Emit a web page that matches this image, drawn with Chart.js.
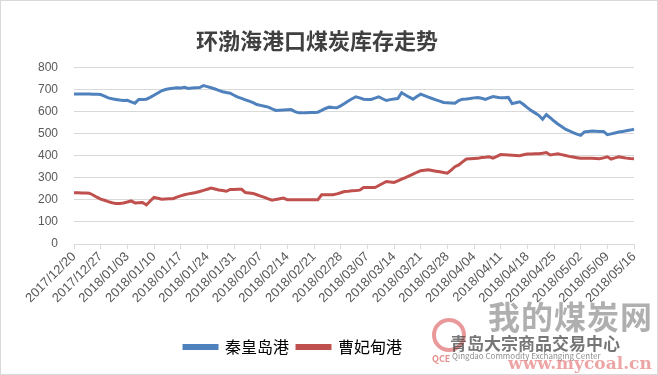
<!DOCTYPE html>
<html>
<head>
<meta charset="utf-8">
<script src="https://cdn.jsdelivr.net/npm/chart.js@4/dist/chart.umd.min.js"></script>
<style>
    html, body { margin: 0; padding: 0; background: #fff; }
    #wrap { position: relative; width: 658px; height: 375px; }
    #frame { position: absolute; left: 0; top: 0; width: 658px; height: 375px; box-sizing: border-box; border: 1px solid #d9d9d9; pointer-events: none; }
    .wm { position: absolute; white-space: nowrap; font-family: "Noto Sans CJK SC", sans-serif; pointer-events: none; }
</style>
</head>
<body>
<div id="wrap">
    <canvas id="stock-canvas" width="658" height="375"></canvas>
    <div class="wm" style="left:432px;top:318px;width:34px;height:34px;border:4px solid rgba(215,70,70,0.55);border-radius:50%;box-sizing:border-box;"></div>
    <div class="wm" style="left:432px;top:352px;font-size:9px;font-weight:bold;color:rgba(215,70,70,0.6);">QCE</div>
    <div class="wm" style="left:488px;top:292px;font-size:32px;font-weight:bold;color:rgba(110,110,110,0.55);letter-spacing:1px;">我的煤炭网</div>
    <div class="wm" style="left:450px;top:330px;font-size:17px;font-weight:bold;color:rgba(60,60,60,0.7);">青岛大宗商品交易中心</div>
    <div class="wm" style="left:452px;top:350px;font-size:8px;color:rgba(60,60,60,0.6);">Qingdao Commodity Exchanging Center</div>
    <div class="wm" style="left:508px;top:353px;font-size:17px;font-weight:bold;font-family:'DejaVu Serif',serif;color:rgba(220,90,90,0.55);">www.mycoal.cn</div>
    <div id="frame"></div>
</div>
<script>
// Daily coal stocks (10k t), 2017/12/20 .. 2018/05/16
const startDate = Date.UTC(2017, 11, 20);
const dayCount = 148;
const seriesNames = ["秦皇岛港", "曹妃甸港"];
const yTicks = [0, 100, 200, 300, 400, 500, 600, 700, 800];

const qhdStock = [
    680, 680, 679, 680, 679, 678, 678, 677, 670, 662,
    658, 655, 652, 650, 651, 644, 638, 655, 655, 656,
    664, 674, 684, 694, 700, 703, 706, 708, 707, 710,
    705, 707, 708, 709, 718, 713, 708, 702, 696, 690,
    686, 683, 674, 665, 660, 653, 647, 640, 632, 628,
    624, 620, 612, 605, 606, 607, 608, 609, 600, 594,
    594, 595, 596, 596, 597, 605, 614, 620, 618, 617,
    626, 636, 648, 658, 667, 662, 656, 655, 655, 661,
    667, 658, 650, 654, 657, 659, 685, 675, 665, 656,
    668, 679, 672, 665, 659, 653, 647, 641, 640, 639,
    638, 650, 656, 657, 659, 662, 664, 660, 655, 662,
    668, 665, 662, 663, 664, 636, 640, 644, 632, 618,
    605, 594, 583, 565, 586, 572, 557, 544, 532, 520,
    513, 505, 498, 492, 508, 510, 512, 511, 510, 510,
    495, 499, 503, 507, 510, 513, 516, 520
];

const cfdStock = [
    232, 232, 231, 231, 230, 222, 212, 203, 198, 192,
    187, 183, 184, 186, 190, 195, 186, 187, 188, 177,
    195, 211, 207, 203, 204, 205, 205, 212, 218, 223,
    227, 230, 233, 238, 243, 248, 253, 249, 245, 242,
    239, 247, 247, 248, 248, 233, 231, 229, 223, 217,
    211, 204, 198, 202, 205, 208, 200, 200, 200, 200,
    200, 200, 200, 200, 200, 223, 223, 223, 223, 227,
    232, 238, 239, 241, 242, 244, 256, 256, 256, 256,
    265, 274, 283, 281, 279, 286, 294, 301, 309, 317,
    325, 332, 334, 336, 333, 330, 327, 324, 321, 335,
    350, 358, 372, 385, 386, 387, 388, 392, 393, 395,
    389, 397, 405, 404, 403, 402, 401, 400, 404, 408,
    408, 409, 409, 411, 414, 403, 406, 409, 405, 401,
    397, 394, 391, 388, 388, 389, 388, 387, 386, 390,
    395, 385, 390, 395, 392, 389, 387, 386
];

// category labels: one per day
const dateLabels = [];
for (let i = 0; i < dayCount; i++) {
    const d = new Date(startDate + i * 86400000);
    const mm = String(d.getUTCMonth() + 1).padStart(2, "0");
    const dd = String(d.getUTCDate()).padStart(2, "0");
    dateLabels.push(d.getUTCFullYear() + "/" + mm + "/" + dd);
}

const lineColors = ["#4f81bd", "#c0504d"];
const tickGray = "#595959";
const gridGray = "#d9d9d9";

// Excel put the legend a bit left of centre
const legendShift = {
    id: "legendShift",
    afterLayout(chart) {
        chart.legend.left -= 24;
        chart.legend.right -= 24;
    }
};

new Chart(document.getElementById("stock-canvas"), {
    type: "line",
    data: {
        labels: dateLabels,
        datasets: [qhdStock, cfdStock].map((vals, i) => ({
            label: seriesNames[i],
            data: vals,
            borderColor: lineColors[i],
            backgroundColor: lineColors[i],
            borderWidth: 3,
            pointRadius: 0,
            tension: 0,
            fill: false
        }))
    },
    plugins: [legendShift],
    options: {
        responsive: false,
        animation: false,
        layout: { padding: { left: 0, right: 24, top: 0, bottom: 10 } },
        plugins: {
            title: {
                display: true,
                text: "环渤海港口煤炭库存走势",
                color: "#404040",
                font: { family: "Noto Sans CJK SC", size: 22, weight: "bold" },
                padding: { top: 27, bottom: 14 }
            },
            legend: {
                position: "bottom",
                labels: {
                    color: "#000",
                    font: { family: "Noto Sans CJK SC", size: 16 },
                    boxWidth: 33,
                    boxHeight: 3,
                    padding: 8
                }
            },
            tooltip: { enabled: false }
        },
        scales: {
            x: {
                offset: false,
                afterBuildTicks: (scale) => {
                    scale.ticks = scale.ticks.filter((t, i) => i % 7 === 0);
                },
                afterFit: (scale) => { scale.height = 87; },
                grid: { drawOnChartArea: false, drawTicks: true, tickLength: 5, color: gridGray },
                border: { color: gridGray },
                ticks: {
                    autoSkip: false,
                    maxRotation: 45,
                    minRotation: 45,
                    color: tickGray,
                    font: { family: "Liberation Sans", size: 13 },
                    padding: 0
                }
            },
            y: {
                min: yTicks[0],
                max: yTicks[yTicks.length - 1],
                afterFit: (scale) => { scale.width = 74; },
                grid: { color: gridGray, drawTicks: false },
                border: { display: false },
                ticks: {
                    stepSize: yTicks[1] - yTicks[0],
                    color: tickGray,
                    font: { family: "Liberation Sans", size: 12 },
                    padding: 16
                }
            }
        }
    }
});
</script>
</body>
</html>
